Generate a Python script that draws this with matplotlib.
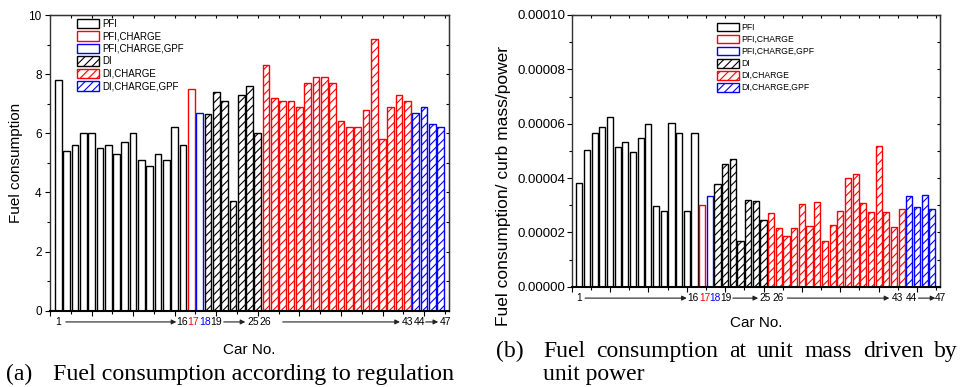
import numpy as np
import matplotlib.pyplot as plt
import matplotlib.transforms as mtransforms
from matplotlib.ticker import MultipleLocator, FormatStrFormatter

plt.rcParams['font.family'] = ['Liberation Sans', 'DejaVu Sans']
plt.rcParams['hatch.linewidth'] = 0.8

# car numbers and engine groups
car_no = np.arange(1, 48)
groups = ['PFI', 'PFI,CHARGE', 'PFI,CHARGE,GPF', 'DI', 'DI,CHARGE', 'DI,CHARGE,GPF']
group_sizes = [16, 1, 1, 7, 18, 4]
group_colors = ['black', 'red', 'blue', 'black', 'red', 'blue']
group_hatch = ['', '', '', '////', '////', '////']

# (a) fuel consumption according to regulation
fuel = [7.8, 5.4, 5.6, 6.0, 6.0, 5.5, 5.6, 5.3, 5.7, 6.0, 5.1, 4.9, 5.3, 5.1, 6.2, 5.6,
        7.5,
        6.7,
        6.65, 7.4, 7.1, 3.7, 7.3, 7.6, 6.0,
        8.3, 7.2, 7.1, 7.1, 6.9, 7.7, 7.9, 7.9, 7.7, 6.4, 6.2, 6.2, 6.8, 9.2, 5.8, 6.9, 7.3, 7.1,
        6.7, 6.9, 6.3, 6.2]

# (b) fuel consumption / curb mass / power, in units of 1e-5
fuel_unit_e5 = [3.82, 5.02, 5.66, 5.87, 6.26, 5.14, 5.31, 4.96, 5.47, 5.99, 2.96, 2.77, 6.04, 5.67, 2.80, 5.67,
                2.99,
                3.33,
                3.79, 4.50, 4.70, 1.67, 3.18, 3.14, 2.47,
                2.70, 2.16, 1.85, 2.17, 3.03, 2.22, 3.12, 1.67, 2.26, 2.77, 3.99, 4.13, 3.07, 2.74, 5.17, 2.76, 2.18, 2.87,
                3.35, 2.94, 3.36, 2.87]
fuel_unit = np.array(fuel_unit_e5) * 1e-5

# labels under the x axis: text, colour, x position (data)
labels_a = [('1', 'black', 1.0), ('16', 'black', 15.9), ('17', 'red', 17.25), ('18', 'blue', 18.6),
            ('19', 'black', 19.95), ('25', 'black', 24.4), ('26', 'black', 25.9),
            ('43', 'black', 43.0), ('44', 'black', 44.4), ('47', 'black', 47.6)]
arrows_a = [(1.9, 15.2), (20.9, 23.5), (28.0, 42.1), (45.2, 46.7)]
labels_b = [('1', 'black', 1.0), ('16', 'black', 15.85), ('17', 'red', 17.3), ('18', 'blue', 18.7),
            ('19', 'black', 20.1), ('25', 'black', 25.2), ('26', 'black', 26.9),
            ('43', 'black', 42.4), ('44', 'black', 44.3), ('47', 'black', 48.1)]
arrows_b = [(1.75, 15.0), (21.0, 24.3), (28.1, 41.4), (45.2, 47.4)]

W, H = 963, 387
fig = plt.figure(figsize=(W / 100, H / 100), dpi=100)
ax1 = fig.add_axes([50 / W, 1 - 310.7 / H, 399 / W, 295.7 / H])
ax2 = fig.add_axes([571.7 / W, 1 - 286.7 / H, 368.3 / W, 271.7 / H])


def draw(ax, values, labels, arrows, ylab_y, tick_fs, num_fs, ypad):
    values = np.asarray(values)
    start = 0
    for g, n, c, h in zip(groups, group_sizes, group_colors, group_hatch):
        ax.bar(car_no[start:start + n], values[start:start + n], width=0.8,
               color='white', edgecolor=c, hatch=h, linewidth=1.0, label=g)
        start += n
    ax.set_xlim(0, 48)
    ax.xaxis.set_major_locator(MultipleLocator(5))
    ax.xaxis.set_minor_locator(MultipleLocator(2.5))
    ax.tick_params(axis='x', which='both', labelbottom=False)
    ax.tick_params(which='major', direction='out', length=3.5, width=0.8, labelsize=tick_fs)
    ax.tick_params(which='minor', direction='out', length=2, width=0.8)
    ax.tick_params(axis='y', pad=ypad)
    for s in ax.spines.values():
        s.set_linewidth(1.0)
        s.set_color('#333333')
    ax.spines['bottom'].set_linewidth(1.5)
    ax.spines['bottom'].set_color('black')

    sx = ax.secondary_xaxis('top')
    sx.xaxis.set_major_locator(MultipleLocator(2.5))
    sx.tick_params(direction='in', length=2, width=0.8, labeltop=False)
    sy = ax.secondary_yaxis('right')
    sy.tick_params(direction='in', length=2, width=0.8, labelright=False)

    trans = mtransforms.blended_transform_factory(ax.transData, ax.transAxes)
    for txt, c, x in labels:
        ax.text(x, ylab_y, txt, color=c, fontsize=num_fs, ha='center', va='center',
                transform=trans, clip_on=False)
    for x0, x1 in arrows:
        ax.annotate('', xy=(x1, ylab_y), xytext=(x0, ylab_y), xycoords=trans, textcoords=trans,
                    arrowprops=dict(arrowstyle='-|>', color='#222222', lw=0.8,
                                    mutation_scale=7, shrinkA=0, shrinkB=0),
                    annotation_clip=False)
    ax.set_xlabel('Car No.', fontsize=11)
    ax.xaxis.set_label_coords(0.5, -0.108)
    return sy


sy1 = draw(ax1, fuel, labels_a, arrows_a, -0.038, 8.5, 7.5, 2.5)
ax1.set_ylim(0, 10)
ax1.yaxis.set_major_locator(MultipleLocator(2))
ax1.yaxis.set_minor_locator(MultipleLocator(1))
sy1.yaxis.set_major_locator(MultipleLocator(1))
ax1.set_ylabel('Fuel consumption', fontsize=11)
ax1.yaxis.set_label_coords(-0.068, 0.5)
ax1.legend(loc='upper left', bbox_to_anchor=(77 / W, 1 - 19 / H), bbox_transform=fig.transFigure,
           frameon=False, fontsize=7, handlelength=2.3, handleheight=1.1, labelspacing=0.25,
           handletextpad=0.3, borderpad=0, borderaxespad=0)

sy2 = draw(ax2, fuel_unit, labels_b, arrows_b, -0.042, 9.5, 7.3, 1)
ax2.set_ylim(0, 1e-4)
ax2.yaxis.set_major_locator(MultipleLocator(2e-5))
ax2.yaxis.set_minor_locator(MultipleLocator(1e-5))
ax2.yaxis.set_major_formatter(FormatStrFormatter('%.5f'))
sy2.yaxis.set_major_locator(MultipleLocator(1e-5))
ax2.set_ylabel('Fuel consumption/ curb mass/power', fontsize=12.5)
ax2.yaxis.set_label_coords(-0.165, 0.37)
ax2.legend(loc='upper left', bbox_to_anchor=(717 / W, 1 - 22.5 / H), bbox_transform=fig.transFigure,
           frameon=False, fontsize=6.2, handlelength=2.5, handleheight=1.2, labelspacing=0.32,
           handletextpad=0.3, borderpad=0, borderaxespad=0)

# captions (serif, second caption justified on its first line)
cap = dict(family=['Liberation Serif', 'DejaVu Serif'], fontsize=17, va='baseline')
fig.text(6 / W, 1 - 380 / H, '(a)', **cap)
fig.text(53 / W, 1 - 380 / H, 'Fuel consumption according to regulation',
         **dict(cap, fontsize=17.3))
fig.text(496 / W, 1 - 357 / H, '(b)', **cap)
fig.text(543 / W, 1 - 380 / H, 'unit power', **cap)

renderer = fig.canvas.get_renderer()
words = 'Fuel consumption at unit mass driven by'.split()
objs = [fig.text(0, 1 - 357 / H, w, **cap) for w in words]
widths = [o.get_window_extent(renderer).width for o in objs]
x0, x1 = 543, 958
gap = (x1 - x0 - sum(widths)) / (len(words) - 1)
x = x0
for o, w in zip(objs, widths):
    o.set_x(x / W)
    x += w + gap

fig.savefig('out.png', dpi=100)
